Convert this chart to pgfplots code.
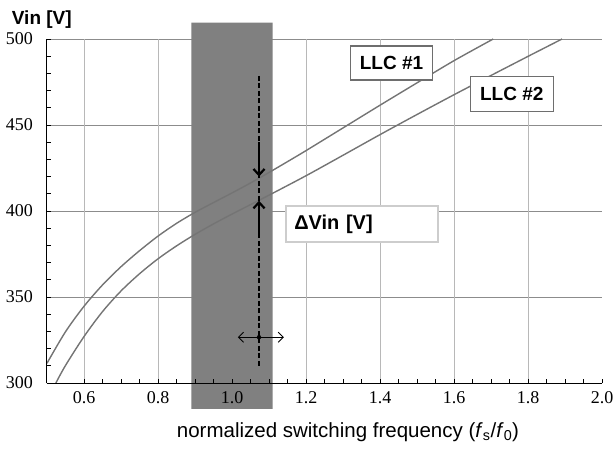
\documentclass[border=0pt]{standalone}
\usepackage{fontspec}
\setmainfont{Liberation Sans}
\newfontfamily\tickfont{Liberation Serif}
\usepackage{pgfplots}
\usepackage{pgfplotstable}
\pgfplotsset{compat=1.18}
\usetikzlibrary{arrows.meta}

\definecolor{curve}{HTML}{747474}
\definecolor{band}{HTML}{808080}
\definecolor{hgrid}{HTML}{8C8C8C}
\definecolor{vgrid}{HTML}{B8B8B8}
\definecolor{boxedge}{HTML}{6E6E6E}
\definecolor{dvedge}{HTML}{CDCDCD}

% band goes above the grid but below ticks, tick labels and axis lines
\pgfplotsset{
  layers/bandfirst/.define layer set={axis background,axis grid,main,axis ticks,axis lines,axis tick labels,axis descriptions,axis foreground}{
    grid style={/pgfplots/on layer=axis grid},
    tick style={/pgfplots/on layer=axis ticks},
    axis line style={/pgfplots/on layer=axis lines},
    label style={/pgfplots/on layer=axis descriptions},
    ticklabel style={/pgfplots/on layer=axis tick labels},
  },
}

\pgfplotstableread{
x y
0.50 311.5
0.55 329.8
0.60 344.6
0.65 357.0
0.70 367.6
0.75 376.9
0.80 385.4
0.85 392.8
0.90 399.2
0.95 404.9
1.00 410.5
1.05 416.3
1.10 422.4
1.15 428.7
1.20 435.1
1.30 448.3
1.40 461.5
1.50 474.5
1.60 487.4
1.706 500.0
}\llcone

\pgfplotstableread{
x y
0.524 300.0
0.55 310.2
0.60 327.0
0.65 341.5
0.70 353.5
0.75 363.5
0.80 372.2
0.85 379.7
0.90 386.4
0.95 392.5
1.00 398.2
1.05 403.7
1.10 409.2
1.20 420.5
1.30 432.4
1.40 444.4
1.50 456.1
1.60 467.6
1.70 478.8
1.80 489.9
1.892 500.0
}\llctwo

\begin{document}
\begin{tikzpicture}
\begin{axis}[
  set layers=bandfirst,
  at={(0pt,0pt)}, anchor=south west,
  scale only axis, width=555pt, height=344pt,
  xmin=0.5, xmax=2.0, ymin=300, ymax=500,
  enlargelimits=false,
  clip=false,
  axis lines=left,
  axis line style={-, black, line width=1pt},
  xtick={0.6,0.8,1.0,1.2,1.4,1.6,1.8,2.0},
  ytick={300,350,400,450,500},
  minor x tick num=3,
  minor y tick num=4,
  tick align=inside,
  major tick length=4pt, minor tick length=4pt,
  tick style={black, line width=0.8pt},
  xmajorgrids=false, ymajorgrids=true,
  extra x ticks={0.6,0.8,1.0,1.2,1.4,1.6,1.8},
  extra x tick labels={},
  extra x tick style={grid=major, major tick length=0pt},
  x grid style={vgrid, line width=1pt},
  y grid style={hgrid, line width=1pt},
  /pgf/number format/assume math mode=true,
  xticklabel style={font=\tickfont\fontsize{18}{18}\selectfont,
    /pgf/number format/fixed, /pgf/number format/fixed zerofill,
    /pgf/number format/precision=1,
    inner sep=0pt, anchor=north, yshift=-8.5pt},
  yticklabel style={font=\tickfont\fontsize{18}{18}\selectfont,
    inner sep=0pt, anchor=east, xshift=-14pt},
]
  % resonance band
  \addplot[draw=none, fill=band] coordinates {
    (0.89,285) (1.11,285) (1.11,509.5) (0.89,509.5) (0.89,285)};

  \addplot[curve, line width=1.4pt, smooth] table {\llcone};
  \addplot[curve, line width=1.4pt, smooth] table {\llctwo};

  % operating point marker
  \addplot[black, line width=1.4pt, dash pattern=on 5pt off 2.5pt] coordinates {
    (1.073,478.5) (1.073,310)};
  \addplot[black, line width=2.8pt,
    -{Straight Barb[length=6pt,width=11pt,line width=2.2pt]}] coordinates {
    (1.073,440) (1.073,420)};
  \addplot[black, line width=2.8pt,
    -{Straight Barb[length=6pt,width=11pt,line width=2.2pt]}] coordinates {
    (1.073,387) (1.073,406)};
  \addplot[black, line width=0.9pt,
    {Straight Barb[length=5pt,width=10pt]}-{Straight Barb[length=5pt,width=10pt]}] coordinates {
    (1.016,326.6) (1.14,326.6)};
  \addplot[only marks, mark=*, mark size=2pt, black] coordinates {(1.073,326.6)};

  \node[draw=boxedge, line width=1.3pt, fill=white, minimum width=81.6pt,
    minimum height=34pt, inner sep=0pt,
    font=\bfseries\fontsize{19}{19}\selectfont] at (axis cs:1.431,486) {LLC \#1};
  \node[draw=boxedge, line width=1.3pt, fill=white, minimum width=83pt,
    minimum height=35pt, inner sep=0pt,
    font=\bfseries\fontsize{19}{19}\selectfont] at (axis cs:1.756,467.9) {LLC \#2};
  \node[draw=dvedge, line width=2pt, fill=white, anchor=west,
    minimum height=36pt, text width=136pt, inner xsep=8pt, inner ysep=0pt,
    align=left, font=\bfseries\fontsize{20}{20}\selectfont]
    at (axis cs:1.144,392.3) {ΔVin [V]};
\end{axis}

\node[anchor=base west, inner sep=0pt, font=\bfseries\fontsize{19}{19}\selectfont]
  at (-35.3pt,358pt) {Vin [V]};
\node[anchor=base, inner sep=0pt, font=\fontsize{20.5}{20.5}\selectfont]
  at (301pt,-54.5pt) {normalized switching frequency (\textit{f}\textsubscript{s}/\textit{f}\textsubscript{0})};

\pgfresetboundingbox
\useasboundingbox (-47pt,-65pt) rectangle (568pt,383pt);
\end{tikzpicture}
\end{document}
